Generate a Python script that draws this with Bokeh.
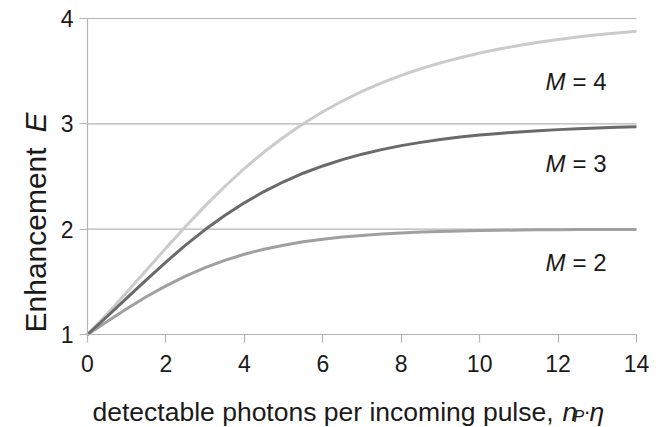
import math
from bokeh.plotting import figure
from bokeh.models import Label, FixedTicker
from bokeh.embed import file_html
from bokeh.resources import INLINE

# data
x_vals = [0, 0.5, 1, 1.5, 2, 2.5, 3, 3.5, 4, 4.5, 5, 5.5, 6, 6.5, 7, 7.5, 8, 8.5, 9,
          9.5, 10, 10.5, 11, 11.5, 12, 12.5, 13, 13.5, 14]
e_m2 = [1.0, 1.124, 1.245, 1.358, 1.462, 1.555, 1.635, 1.704, 1.762, 1.809, 1.848,
        1.880, 1.905, 1.925, 1.941, 1.954, 1.964, 1.972, 1.978, 1.983, 1.987, 1.990,
        1.992, 1.994, 1.995, 1.996, 1.997, 1.998, 1.998]
e_m3 = [1.0, 1.171, 1.345, 1.519, 1.688, 1.848, 1.996, 2.130, 2.250, 2.357, 2.450,
        2.531, 2.600, 2.660, 2.712, 2.755, 2.793, 2.824, 2.851, 2.874, 2.893, 2.909,
        2.923, 2.935, 2.945, 2.954, 2.961, 2.967, 2.972]
e_m4 = [1.0, 1.195, 1.400, 1.610, 1.820, 2.025, 2.221, 2.405, 2.576, 2.732, 2.873,
        3.001, 3.115, 3.217, 3.308, 3.389, 3.460, 3.523, 3.579, 3.628, 3.672, 3.710,
        3.744, 3.774, 3.801, 3.824, 3.845, 3.863, 3.879]
x_ticks = [0, 2, 4, 6, 8, 10, 12, 14]
y_ticks = [1, 2, 3, 4]
series_labels = ["4", "3", "2"]
label_y = [3.40, 2.62, 1.68]

FONT = "Liberation Sans"
TXT = "#1a1a1a"
GRID = "#b4b4b4"

W, H = 668, 427
# frame covers the whole canvas; axes are pinned at x=0 / y=1
PX_X = 549.0 / 14   # pixels per x unit
PX_Y = 316.0 / 3    # pixels per y unit
LEFT, TOP = 87.0, 18.0   # canvas pixel position of x=0 and y=4
x0 = -LEFT / PX_X
x1 = x0 + W / PX_X
y1 = 4 + TOP / PX_Y
y0 = y1 - H / PX_Y

p = figure(width=W, height=H, x_range=(x0, x1), y_range=(y0, y1),
           output_backend="svg", toolbar_location=None,
           min_border=0)
p.outline_line_color = None
p.background_fill_color = "white"
p.xgrid.visible = False
p.ygrid.visible = False

p.xaxis.fixed_location = y_ticks[0]
p.yaxis.fixed_location = x_ticks[0]
p.xaxis.bounds = (x_ticks[0], x_ticks[-1])
p.yaxis.bounds = (y_ticks[0], y_ticks[-1])

for ax, ticks in ((p.xaxis, x_ticks), (p.yaxis, y_ticks)):
    ax.ticker = FixedTicker(ticks=ticks)
    ax.axis_line_color = GRID
    ax.axis_line_width = 1.2
    ax.major_tick_line_color = GRID
    ax.major_tick_line_width = 1.2
    ax.major_tick_in = 0
    ax.major_tick_out = 8
    ax.minor_tick_line_color = None
    ax.major_label_text_font = FONT
    ax.major_label_text_font_size = "23px"
    ax.major_label_text_color = TXT
p.xaxis.major_label_standoff = 12
p.yaxis.major_label_standoff = 6

# horizontal grid lines at the y ticks, spanning the x axis
gy = y_ticks[1:]
p.segment(x0=[x_ticks[0]] * len(gy), x1=[x_ticks[-1]] * len(gy), y0=gy, y1=gy,
          line_color=GRID, line_width=1.2)

p.line(x_vals, e_m4, line_color="#cbcbcb", line_width=3)
p.line(x_vals, e_m2, line_color="#a0a0a0", line_width=3)
p.line(x_vals, e_m3, line_color="#6a6a6a", line_width=3)

for s, yy in zip(series_labels, label_y):
    p.add_layout(Label(x=11.68, y=yy, text="M", text_font=FONT, text_font_style="italic",
                       text_font_size="24px", text_baseline="middle", text_color=TXT))
    p.add_layout(Label(x=11.68, y=yy, x_offset=27, text="= " + s, text_font=FONT,
                       text_font_size="24px", text_baseline="middle", text_color=TXT))

# x axis title (pieces placed in pixels from the x=0 point)
def px_x(px):
    return x_ticks[0] + px / PX_X

xb = y_ticks[0] - 77 / PX_Y
p.add_layout(Label(x=px_x(5), y=xb, text="detectable photons per incoming pulse,",
                   text_font=FONT, text_font_size="26.5px", text_baseline="alphabetic",
                   text_color=TXT))
p.add_layout(Label(x=px_x(475), y=xb, text="n", text_font=FONT, text_font_style="italic",
                   text_font_size="26.5px", text_baseline="alphabetic", text_color=TXT))
p.add_layout(Label(x=px_x(486), y=xb, y_offset=-5, text="P", text_font=FONT,
                   text_font_style="italic", text_font_size="16px",
                   text_baseline="alphabetic", text_color=TXT))
p.add_layout(Label(x=px_x(496), y=xb, text="\u00b7", text_font=FONT,
                   text_font_size="22px", text_baseline="alphabetic", text_color=TXT))
p.add_layout(Label(x=px_x(502), y=xb, text="\u03b7", text_font=FONT,
                   text_font_style="italic", text_font_size="26.5px",
                   text_baseline="alphabetic", text_color=TXT))

# y axis title (rotated)
yx = px_x(-52)
p.add_layout(Label(x=yx, y=y_ticks[0] + 2 / PX_Y, text="Enhancement", angle=math.pi / 2,
                   text_font=FONT, text_font_size="30px", text_baseline="alphabetic",
                   text_color=TXT))
p.add_layout(Label(x=yx, y=y_ticks[0] + 202 / PX_Y, text="E", angle=math.pi / 2,
                   text_font=FONT, text_font_style="italic", text_font_size="30px",
                   text_baseline="alphabetic", text_color=TXT))

open("out.html", "w").write(file_html(p, INLINE))
